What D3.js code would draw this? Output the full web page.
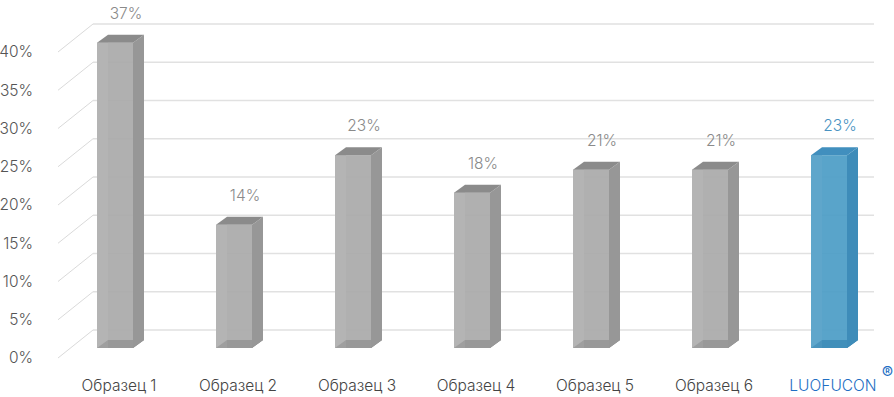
<!DOCTYPE html>
<html>
<head>
<meta charset="utf-8">
<script src="https://cdn.jsdelivr.net/npm/d3@7"></script>
<style>
  html, body { margin: 0; padding: 0; background: #fff; }
  svg { display: block; font-family: Inter, "Noto Sans", sans-serif; }
</style>
</head>
<body>
<svg id="chart" width="894" height="397"></svg>
<script>
// ---- data ----
const categories = ["Образец 1", "Образец 2", "Образец 3", "Образец 4", "Образец 5", "Образец 6", "LUOFUCON"];
const barValues = [39.9, 16.1, 25.2, 20.3, 23.3, 23.3, 25.2];   // drawn bar heights (%)
const valueLabels = ["37%", "14%", "23%", "18%", "21%", "21%", "23%"];
const highlight = [false, false, false, false, false, false, true];
const yTicks = [0, 5, 10, 15, 20, 25, 30, 35, 40];

const FONT = "Inter, sans-serif";
const svg = d3.select("#chart");

// scales
const x = d3.scaleBand().domain(categories).range([55.5, 888.5]).paddingInner(0).paddingOuter(0);
const yBar = d3.scaleLinear().domain([0, 40]).range([348, 42]);     // bar front plane
const yBack = d3.scaleLinear().domain([0, 40]).range([330, 24]);    // back wall
const yFront = d3.scaleLinear().domain([0, 40]).range([358, 52]);   // front floor edge

const DX = 11, DY = -8, BW = 36;
const wallX0 = 93, wallX1 = 874, frontX = 58;

// gridlines
const grid = svg.append("g");
grid.selectAll("line.h").data(yTicks).join("line")
  .attr("x1", wallX0).attr("x2", wallX1)
  .attr("y1", d => yBack(d)).attr("y2", d => yBack(d))
  .attr("stroke", "#e1e1e1").attr("stroke-width", 1.5);
grid.selectAll("line.d").data(yTicks).join("line")
  .attr("x1", frontX).attr("x2", wallX0)
  .attr("y1", d => yFront(d)).attr("y2", d => yBack(d))
  .attr("stroke", "#cfcfcf").attr("stroke-width", 0.8);

// y axis
const yAxis = d3.axisLeft(yFront).tickValues(yTicks).tickFormat(d => d + "%").tickSize(0).tickPadding(0);
const ag = svg.append("g").attr("transform", "translate(33,0)").call(yAxis);
ag.select(".domain").remove();
ag.selectAll("text").attr("fill", "#555").style("font-size", "15.5px").style("font-family", FONT).style("font-weight", 300);

// colors
const pal = {
  gray: { front: "#a9a9a9", strip: "#b4b4b4", side: "#979797", top: "#8b8b8b", bottom: "#8e8e8e" },
  blue: { front: "#4b9cc6", strip: "#5fa6cb", side: "#3e8cb9", top: "#418fbe", bottom: "#3a86b3" }
};

const bars = svg.append("g");
categories.forEach((c, i) => {
  const p = highlight[i] ? pal.blue : pal.gray;
  const cx = x(c) + x.bandwidth() / 2;
  const x0 = cx - BW / 2, x1 = cx + BW / 2;
  const yb = yBar(0), yt = yBar(barValues[i]);
  const g = bars.append("g");
  const poly = pts => pts.map(q => q.join(",")).join(" ");
  g.append("polygon").attr("points", poly([[x0, yb], [x1, yb], [x1 + DX, yb + DY], [x0 + DX, yb + DY]]))
    .attr("fill", p.bottom);
  g.append("rect").attr("x", x0).attr("y", yt).attr("width", BW).attr("height", yb - yt)
    .attr("fill", p.front).attr("fill-opacity", 0.92);
  g.append("rect").attr("x", x0).attr("y", yt).attr("width", DX).attr("height", yb - yt)
    .attr("fill", p.strip).attr("fill-opacity", 0.92);
  g.append("polygon").attr("points", poly([[x0, yb], [x1, yb], [x1 + DX, yb + DY], [x0 + DX, yb + DY]]))
    .attr("fill", p.bottom).attr("fill-opacity", 0.55);
  g.append("polygon").attr("points", poly([[x1, yt], [x1 + DX, yt + DY], [x1 + DX, yb + DY], [x1, yb]]))
    .attr("fill", p.side);
  g.append("polygon").attr("points", poly([[x0, yt], [x0 + DX, yt + DY], [x1 + DX, yt + DY], [x1, yt]]))
    .attr("fill", p.top);

  svg.append("text")
    .attr("x", cx + DX).attr("y", yt + DY - 21.5).attr("dy", "0.35em")
    .attr("text-anchor", "middle")
    .attr("fill", highlight[i] ? "#4a93c2" : "#8a8a8a")
    .style("font-size", "15.5px").style("font-weight", 300)
    .text(valueLabels[i]);

  const t = svg.append("text")
    .attr("x", cx + 4).attr("y", 386).attr("dy", "0.35em")
    .attr("text-anchor", "middle")
    .attr("fill", highlight[i] ? "#1f6fc4" : "#444")
    .style("font-size", "15.5px").style("font-weight", 300)
    .text(c);
  if (highlight[i]) {
    const w = t.node().getComputedTextLength();
    svg.append("text")
      .attr("x", cx + 4 + w / 2 + 5).attr("y", 379)
      .attr("fill", "#1f6fc4").style("font-size", "17px")
      .text("®");
  }
});
</script>
</body>
</html>
